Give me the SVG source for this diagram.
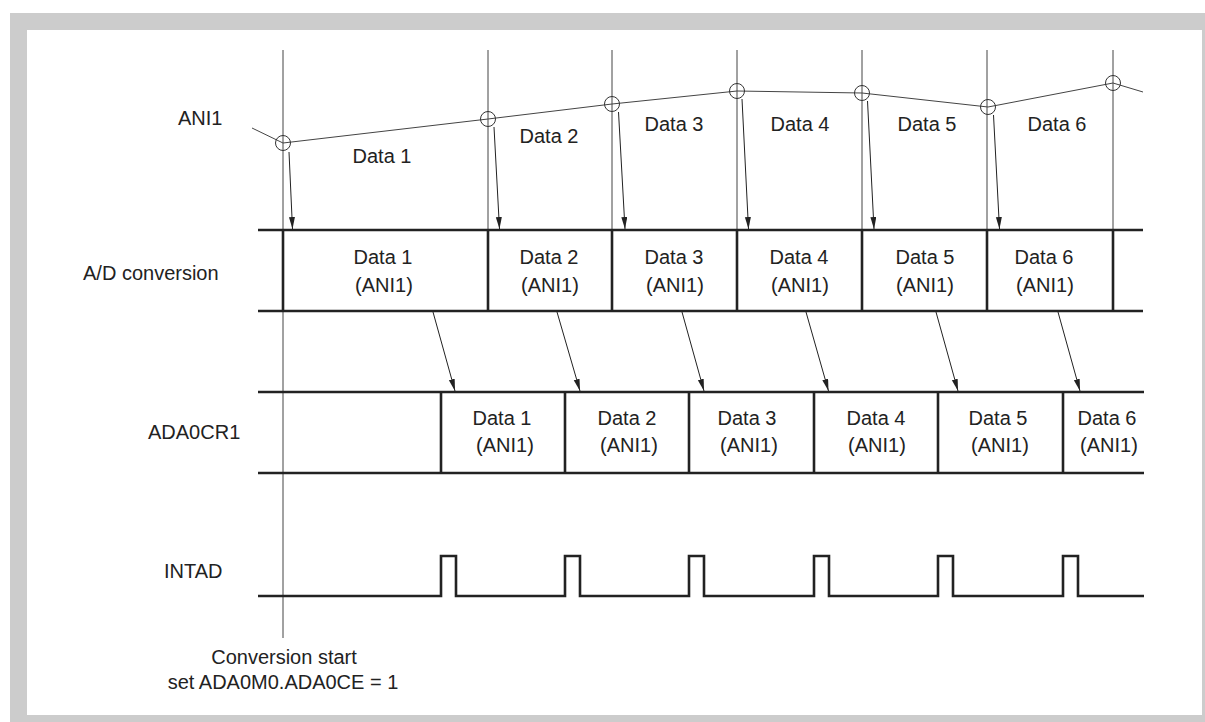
<svg xmlns="http://www.w3.org/2000/svg" width="1205" height="722" viewBox="0 0 1205 722">
<defs>
<marker id="ah" markerUnits="userSpaceOnUse" markerWidth="13" markerHeight="7" refX="12" refY="3" orient="auto">
<path d="M0,0 L12,3 L0,6 z" fill="#222"/>
</marker>
<style>
text{font-family:"Liberation Sans",Arial,sans-serif;font-size:20px;fill:#222}
.m{text-anchor:middle}
.thin{stroke:#444;stroke-width:1;fill:none}
.thick{stroke:#222;stroke-width:2.6;fill:none}
.arr{stroke:#222;stroke-width:1;fill:none;marker-end:url(#ah)}
.cir{stroke:#333;stroke-width:1;fill:none}
</style>
</defs>
<rect x="10" y="13" width="1195" height="709" fill="#cccccc"/>
<rect x="27" y="30" width="1175" height="685" fill="#ffffff"/>

<g id="guides">
<line class="thin" x1="283" y1="50" x2="283" y2="638"/>
<line class="thin" x1="488" y1="50" x2="488" y2="311"/>
<line class="thin" x1="612" y1="50" x2="612" y2="311"/>
<line class="thin" x1="737" y1="50" x2="737" y2="311"/>
<line class="thin" x1="862" y1="50" x2="862" y2="311"/>
<line class="thin" x1="987" y1="50" x2="987" y2="311"/>
<line class="thin" x1="1113" y1="50" x2="1113" y2="311"/>
</g>

<g id="ani1">
<text x="178" y="125">ANI1</text>
<polyline class="thin" points="252,128 283,143 488,119 612,104 737,91 862,93 988,107 1113,83 1143,92"/>
<circle class="cir" cx="283" cy="143" r="7.5"/>
<circle class="cir" cx="488" cy="119" r="7.5"/>
<circle class="cir" cx="612" cy="104" r="7.5"/>
<circle class="cir" cx="737" cy="91" r="7.5"/>
<circle class="cir" cx="862" cy="93" r="7.5"/>
<circle class="cir" cx="988" cy="107" r="7.5"/>
<circle class="cir" cx="1113" cy="83" r="7.5"/>
<text class="m" x="382" y="163">Data 1</text>
<text class="m" x="549" y="143">Data 2</text>
<text class="m" x="674" y="131">Data 3</text>
<text class="m" x="800" y="131">Data 4</text>
<text class="m" x="927" y="131">Data 5</text>
<text class="m" x="1057" y="131">Data 6</text>
</g>

<g id="adconv">
<text x="83" y="280">A/D conversion</text>
<line class="thick" x1="258" y1="230" x2="1143" y2="230"/>
<line class="thick" x1="258" y1="311" x2="1143" y2="311"/>
<line class="thick" x1="283" y1="230" x2="283" y2="311"/>
<line class="thick" x1="488" y1="230" x2="488" y2="311"/>
<line class="thick" x1="612" y1="230" x2="612" y2="311"/>
<line class="thick" x1="737" y1="230" x2="737" y2="311"/>
<line class="thick" x1="862" y1="230" x2="862" y2="311"/>
<line class="thick" x1="987" y1="230" x2="987" y2="311"/>
<line class="thick" x1="1113" y1="230" x2="1113" y2="311"/>
<text class="m" x="383" y="264">Data 1</text><text class="m" x="384" y="292">(ANI1)</text>
<text class="m" x="549" y="264">Data 2</text><text class="m" x="550" y="292">(ANI1)</text>
<text class="m" x="674" y="264">Data 3</text><text class="m" x="675" y="292">(ANI1)</text>
<text class="m" x="799" y="264">Data 4</text><text class="m" x="800" y="292">(ANI1)</text>
<text class="m" x="925" y="264">Data 5</text><text class="m" x="925" y="292">(ANI1)</text>
<text class="m" x="1044" y="264">Data 6</text><text class="m" x="1045" y="292">(ANI1)</text>
</g>

<g id="ada0cr1">
<text x="148" y="439">ADA0CR1</text>
<line class="thick" x1="258" y1="392" x2="1144" y2="392"/>
<line class="thick" x1="258" y1="473" x2="1144" y2="473"/>
<line class="thick" x1="441" y1="392" x2="441" y2="473"/>
<line class="thick" x1="565" y1="392" x2="565" y2="473"/>
<line class="thick" x1="689" y1="392" x2="689" y2="473"/>
<line class="thick" x1="814" y1="392" x2="814" y2="473"/>
<line class="thick" x1="938" y1="392" x2="938" y2="473"/>
<line class="thick" x1="1063" y1="392" x2="1063" y2="473"/>
<text class="m" x="502" y="425">Data 1</text><text class="m" x="505" y="452">(ANI1)</text>
<text class="m" x="627" y="425">Data 2</text><text class="m" x="629" y="452">(ANI1)</text>
<text class="m" x="747" y="425">Data 3</text><text class="m" x="749" y="452">(ANI1)</text>
<text class="m" x="876" y="425">Data 4</text><text class="m" x="877" y="452">(ANI1)</text>
<text class="m" x="998" y="425">Data 5</text><text class="m" x="1000" y="452">(ANI1)</text>
<text class="m" x="1107" y="425">Data 6</text><text class="m" x="1109" y="452">(ANI1)</text>
</g>

<g id="intad">
<text x="164" y="578">INTAD</text>
<polyline class="thick" points="258,596 441,596 441,556 456,556 456,596 565,596 565,556 580,556 580,596 689,596 689,556 704,556 704,596 814,596 814,556 829,556 829,596 938,596 938,556 953,556 953,596 1063,596 1063,556 1078,556 1078,596 1144,596"/>
</g>

<g id="start-note">
<text class="m" x="284" y="664">Conversion start</text>
<text class="m" x="283" y="689">set ADA0M0.ADA0CE = 1</text>
</g>

<g id="connectors">
<line class="arr" x1="289" y1="152" x2="292.5" y2="229"/>
<line class="arr" x1="494" y1="127" x2="499.5" y2="229"/>
<line class="arr" x1="618.5" y1="112" x2="625" y2="229"/>
<line class="arr" x1="742" y1="99" x2="748.5" y2="229"/>
<line class="arr" x1="867.5" y1="101" x2="874" y2="229"/>
<line class="arr" x1="993.5" y1="115" x2="999.5" y2="229"/>
<line class="arr" x1="433" y1="312" x2="455" y2="391"/>
<line class="arr" x1="557" y1="312" x2="580" y2="391"/>
<line class="arr" x1="682" y1="312" x2="704" y2="391"/>
<line class="arr" x1="806" y1="312" x2="828.5" y2="391"/>
<line class="arr" x1="936" y1="312" x2="958" y2="391"/>
<line class="arr" x1="1058" y1="312" x2="1080" y2="391"/>
</g>
</svg>
